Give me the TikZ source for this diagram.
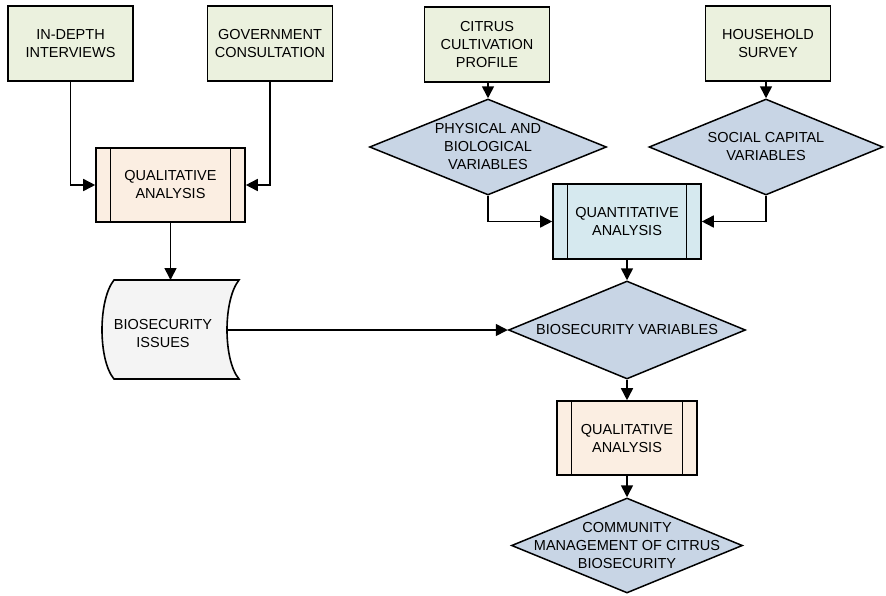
\documentclass[tikz,border=0pt]{standalone}
\usepackage{fontspec}
\setmainfont{Liberation Sans}
\usetikzlibrary{shapes.geometric,arrows.meta}

\definecolor{srcfill}{HTML}{EBF1DE}
\definecolor{varfill}{HTML}{C8D5E5}
\definecolor{qualfill}{HTML}{FBEEE2}
\definecolor{quantfill}{HTML}{D6E9EF}
\definecolor{docfill}{HTML}{F4F4F4}

\tikzset{
  every node/.style={font=\fontsize{14.5}{18}\selectfont, align=center},
  link/.style={line width=1.6pt, -{Triangle[length=12pt,width=12pt]}},
  srcbox/.style={draw, line width=1.6pt, fill=srcfill, minimum width=125pt, minimum height=75pt, inner sep=0pt},
  varbox/.style={draw, line width=1.5pt, fill=varfill, diamond, inner sep=0pt},
  procbox/.style={draw, line width=1.6pt, minimum width=#1, minimum height=74pt, inner sep=0pt,
    path picture={
      \draw[line width=1.6pt] ([xshift=14.5pt]path picture bounding box.north west) -- ([xshift=14.5pt]path picture bounding box.south west);
      \draw[line width=1.6pt] ([xshift=-14.5pt]path picture bounding box.north east) -- ([xshift=-14.5pt]path picture bounding box.south east);
    }},
}

\begin{document}
\begin{tikzpicture}[x=1pt,y=-1pt]
\useasboundingbox (0,0) rectangle (886,595);

% data sources
\node[srcbox] (interviews) at (70.5,43.5) {IN-DEPTH\\INTERVIEWS};
\node[srcbox] (government) at (270,43.5) {GOVERNMENT\\CONSULTATION};
\node[srcbox] (citrus) at (487,44.5) {CITRUS\\CULTIVATION\\PROFILE};
\node[srcbox] (household) at (768,43.5) {HOUSEHOLD\\SURVEY};

% qualitative branch
\node[procbox=149pt, fill=qualfill] (qual) at (170.5,185) {QUALITATIVE\\ANALYSIS};

% biosecurity issues (stored data shape)
\draw[line width=1.6pt, fill=docfill]
  (114,280) -- (239,280) .. controls (223,300) and (223,360) .. (239,379)
  -- (114,379) .. controls (98,360) and (98,300) .. (114,280) -- cycle;
\node (issues) at (163,334) {BIOSECURITY\\ISSUES};
\coordinate (issuesR) at (227,330);

% variable groups
\node[varbox, minimum width=237pt, minimum height=96pt,
      label={[align=center]center:PHYSICAL AND\\BIOLOGICAL\\VARIABLES}] (phys) at (488,147) {};
\node[varbox, minimum width=234pt, minimum height=96pt,
      label={[align=center]center:SOCIAL CAPITAL\\VARIABLES}] (social) at (766,147) {};

% quantitative branch
\node[procbox=148pt, fill=quantfill, minimum height=75pt] (quant) at (627,221.5) {QUANTITATIVE\\ANALYSIS};
\node[varbox, minimum width=237pt, minimum height=98pt,
      label={[align=center]center:BIOSECURITY VARIABLES}] (bvars) at (627,330) {};
\node[procbox=140pt, fill=qualfill] (qual2) at (627,438) {QUALITATIVE\\ANALYSIS};
\node[varbox, minimum width=231pt, minimum height=95pt,
      label={[align=center]center:COMMUNITY\\MANAGEMENT OF CITRUS\\BIOSECURITY}] (community) at (627,545.5) {};

% connectors
\draw[link] (interviews.south) |- (qual.west);
\draw[link] (government.south) |- (qual.east);
\draw[link] (qual.south) -- (qual.south |- 0,280);
\draw[link] (citrus.south -| phys.north) -- (phys.north);
\draw[link] (household.south -| social.north) -- (social.north);
\draw[link] (phys.south) |- (quant.west);
\draw[link] (social.south) |- (quant.east);
\draw[link] (quant.south) -- (bvars.north);
\draw[link] (issuesR) -- (bvars.west);
\draw[link] (bvars.south) -- (qual2.north);
\draw[link] (qual2.south) -- (community.north);
\end{tikzpicture}
\end{document}
